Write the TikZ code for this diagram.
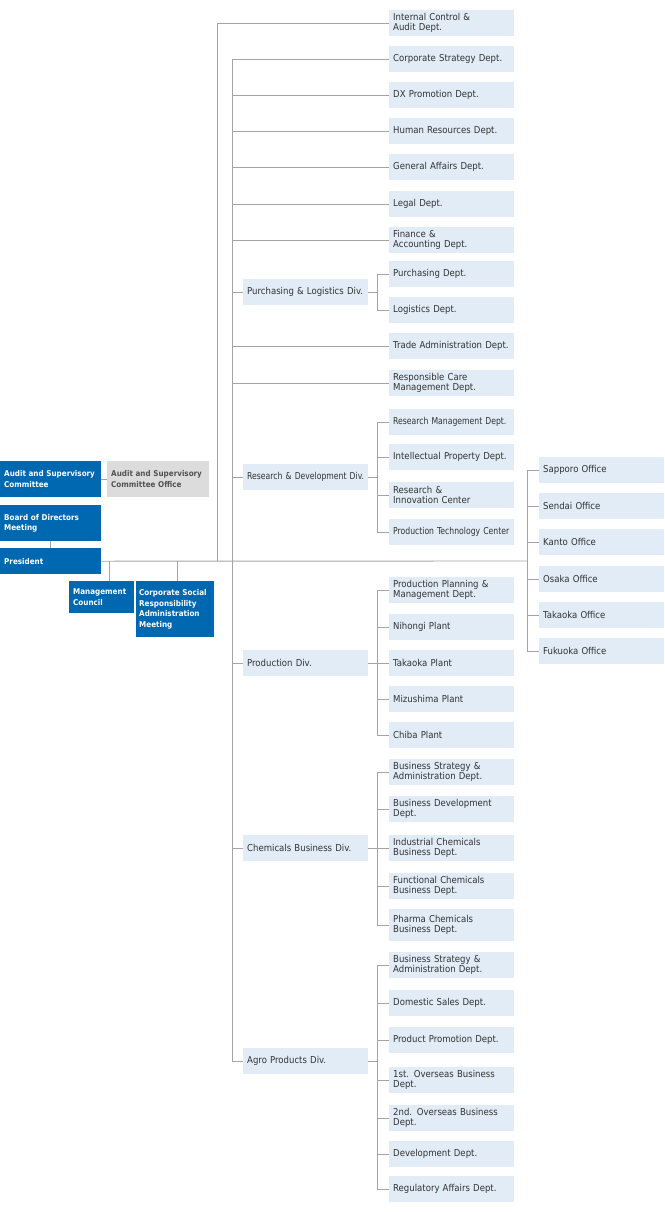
\documentclass[tikz,border=0pt]{standalone}
\usepackage{fontspec}
\setmainfont{DejaVu Sans Condensed}
\newfontfamily\squeezed{DejaVu Sans Condensed}[FakeStretch=0.9]
\usetikzlibrary{positioning}
\definecolor{corpblue}{HTML}{0068B0}
\definecolor{paleblue}{HTML}{E1ECF6}
\definecolor{palegray}{HTML}{DCDCDC}
\definecolor{linegray}{HTML}{A4A4A4}
\definecolor{inkgray}{HTML}{333333}
\hyphenpenalty=10000
\exhyphenpenalty=10000
\begin{document}
\begin{tikzpicture}[x=1pt,y=-1pt,
  dept/.style={fill=paleblue,text=inkgray,anchor=west,text width=117pt,align=left,
    inner xsep=4pt,inner ysep=0pt,minimum height=26pt,font=\fontsize{9.5}{10.5}\selectfont},
  tight/.style={font=\squeezed\fontsize{9.5}{10.5}\selectfont},
  top/.style={fill=corpblue,text=white,anchor=north west,align=left,inner xsep=4pt,
    inner ysep=0pt,font=\bfseries\fontsize{8}{10.5}\selectfont},
  link/.style={draw=linegray,line width=0.9pt}]
\useasboundingbox (0,0) rectangle (664,1212);
\node[top,text width=93pt,minimum height=36pt] (asc) at (0,461) {Audit and Supervisory\\Committee};
\node[top,fill=palegray,text=inkgray!85,text width=94pt,minimum height=36pt] (asco) at (107,461) {Audit and Supervisory\\Committee Office};
\node[top,text width=93pt,minimum height=36pt] (board) at (0,505) {Board of Directors\\Meeting};
\node[top,text width=93pt,minimum height=26pt] (pres) at (0,548) {President};
\node[top,text width=57pt,minimum height=32pt] (mc) at (69,581) {Management\\Council};
\node[top,inner xsep=3pt,text width=72pt,minimum height=56pt] (csr) at (136,581) {Corporate Social\\Responsibility\\Administration\\Meeting};
\coordinate (hub) at (527,561);
\coordinate (mcj) at (109,561);
\coordinate (csrj) at (177,561);
\coordinate (j1) at (217,561);
\coordinate (j2) at (232,561);
\node[dept] (icad) at (389,23) {Internal Control \&\\Audit Dept.};
\node[dept] (cs) at (389,59) {Corporate Strategy Dept.};
\node[dept] (dx) at (389,95) {DX Promotion Dept.};
\node[dept] (hr) at (389,131) {Human Resources Dept.};
\node[dept] (ga) at (389,167) {General Affairs Dept.};
\node[dept] (legal) at (389,204) {Legal Dept.};
\node[dept] (fin) at (389,240) {Finance \&\\Accounting Dept.};
\node[dept] (pld) at (243,292) {Purchasing \& Logistics Div.};
\node[dept] (purch) at (389,274) {Purchasing Dept.};
\node[dept] (logi) at (389,310) {Logistics Dept.};
\node[dept] (trade) at (389,346) {Trade Administration Dept.};
\node[dept] (rc) at (389,383) {Responsible Care\\Management Dept.};
\node[dept,tight] (rdd) at (243,477) {Research \& Development Div.};
\node[dept,tight] (rmd) at (389,422) {Research Management Dept.};
\node[dept] (ipd) at (389,457) {Intellectual Property Dept.};
\node[dept] (ric) at (389,495) {Research \&\\Innovation Center};
\node[dept,tight] (ptc) at (389,532) {Production Technology Center};
\node[dept] (sap) at (539,470) {Sapporo Office};
\node[dept] (sen) at (539,506) {Sendai Office};
\node[dept] (kan) at (539,542) {Kanto Office};
\node[dept] (osa) at (539,579) {Osaka Office};
\node[dept] (tko) at (539,615) {Takaoka Office};
\node[dept] (fuk) at (539,651) {Fukuoka Office};
\node[dept] (prod) at (243,663) {Production Div.};
\node[dept] (ppm) at (389,590) {Production Planning \&\\Management Dept.};
\node[dept] (nih) at (389,627) {Nihongi Plant};
\node[dept] (tkp) at (389,663) {Takaoka Plant};
\node[dept] (miz) at (389,699) {Mizushima Plant};
\node[dept] (chi) at (389,735) {Chiba Plant};
\node[dept] (chem) at (243,848) {Chemicals Business Div.};
\node[dept] (cbs) at (389,772) {Business Strategy \&\\Administration Dept.};
\node[dept] (cbd) at (389,809) {Business Development\\Dept.};
\node[dept] (icb) at (389,848) {Industrial Chemicals\\Business Dept.};
\node[dept] (fcb) at (389,886) {Functional Chemicals\\Business Dept.};
\node[dept,minimum height=32pt] (pcb) at (389,925) {Pharma Chemicals\\Business Dept.};
\node[dept] (agro) at (243,1061) {Agro Products Div.};
\node[dept] (abs) at (389,965) {Business Strategy \&\\Administration Dept.};
\node[dept] (ads) at (389,1003) {Domestic Sales Dept.};
\node[dept] (app) at (389,1040) {Product Promotion Dept.};
\node[dept] (ao1) at (389,1080) {1st. Overseas Business\\Dept.};
\node[dept] (ao2) at (389,1118) {2nd. Overseas Business\\Dept.};
\node[dept] (adev) at (389,1154) {Development Dept.};
\node[dept] (areg) at (389,1189) {Regulatory Affairs Dept.};
\draw[link] (asc.east) -- (asco.west);
\draw[link] (board.south) -- (pres.north);
\draw[link] (pres.east) -- (hub);
\draw[link] (mcj) -- (mcj |- mc.north);
\draw[link] (csrj) -- (csrj |- csr.north);
\draw[link] (j1) |- (icad.west);
\foreach \n in {cs,dx,hr,ga,legal,fin,pld,trade,rc,rdd,prod,chem,agro}
  \draw[link] (j2) |- (\n.west);
\foreach \n in {sap,sen,kan,osa,tko,fuk}
  \draw[link] (hub) |- (\n.west);
\coordinate (plj) at (377,292);
\draw[link] (pld.east) -- (plj);
\draw[link] (plj) |- (purch.west);
\draw[link] (plj) |- (logi.west);
\coordinate (rdj) at (377,477);
\draw[link] (rdd.east) -- (rdj);
\foreach \n in {rmd,ipd,ric,ptc}
  \draw[link] (rdj) |- (\n.west);
\coordinate (prj) at (377,663);
\draw[link] (prod.east) -- (prj);
\foreach \n in {ppm,nih,tkp,miz,chi}
  \draw[link] (prj) |- (\n.west);
\coordinate (chj) at (377,848);
\draw[link] (chem.east) -- (chj);
\foreach \n in {cbs,cbd,icb,fcb,pcb}
  \draw[link] (chj) |- (\n.west);
\coordinate (agj) at (377,1061);
\draw[link] (agro.east) -- (agj);
\foreach \n in {abs,ads,app,ao1,ao2,adev,areg}
  \draw[link] (agj) |- (\n.west);
\end{tikzpicture}
\end{document}
